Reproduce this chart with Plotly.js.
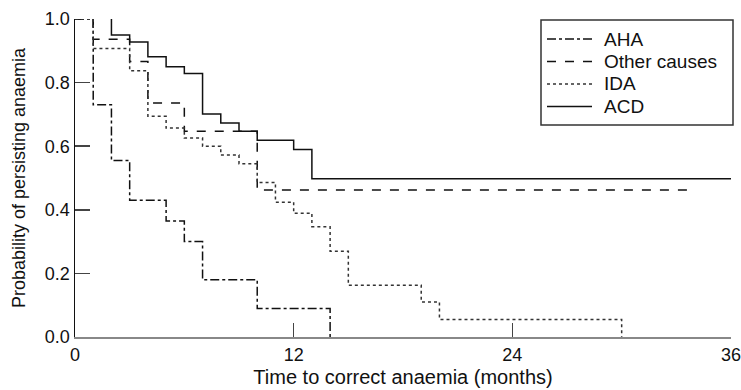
<!DOCTYPE html>
<html>
<head>
<meta charset="utf-8">
<script src="https://cdn.plot.ly/plotly-3.0.1.min.js"></script>
<style>html,body{margin:0;padding:0;background:#fff;}#chart{width:741px;height:390px;}</style>
</head>
<body>
<div id="chart"></div>
<script>
// Kaplan-Meier step data (months, probability)
const ahaMonths   = [0, 1, 2, 3, 5, 6, 7, 10, 14];
const ahaProb     = [1, 0.73, 0.555, 0.43, 0.365, 0.30, 0.18, 0.09, 0];

const otherMonths = [0, 1, 3, 4, 6, 10, 34];
const otherProb   = [1, 0.936, 0.866, 0.736, 0.647, 0.462, 0.462];

const idaMonths   = [0, 1, 3, 4, 5, 6, 7, 8, 9, 10, 11, 12, 13, 14, 15, 19, 20, 30];
const idaProb     = [1, 0.907, 0.837, 0.694, 0.657, 0.626, 0.60, 0.572, 0.545, 0.486, 0.424, 0.389, 0.347, 0.27, 0.163, 0.11, 0.055, 0];

const acdMonths   = [2, 2, 3, 4, 5, 6, 7, 8, 9, 10, 12, 13, 36];
const acdProb     = [1, 0.95, 0.928, 0.881, 0.85, 0.829, 0.701, 0.673, 0.647, 0.619, 0.59, 0.498, 0.498];

const seriesNames = ["AHA", "Other causes", "IDA", "ACD"];
const xTicks = [0, 12, 24, 36];
const yTicks = [0, 0.2, 0.4, 0.6, 0.8, 1.0];

const font = "Liberation Sans, Arial, Helvetica, sans-serif";
const W = 741, H = 390;
const M = {l: 75, r: 10, t: 19, b: 53};
const pw = W - M.l - M.r, ph = H - M.t - M.b;
const px2x = p => (p - M.l) / pw;
const py2y = p => (H - M.b - p) / ph;

const styles = [
  {color: "#111", width: 1.5, dash: "dashdot"},
  {color: "#111", width: 1.5, dash: "dash"},
  {color: "#333", width: 1.5, dash: "dot"},
  {color: "#111", width: 1.5, dash: "solid"}
];
const xs = [ahaMonths, otherMonths, idaMonths, acdMonths];
const ys = [ahaProb, otherProb, idaProb, acdProb];

const traces = seriesNames.map((n, i) => ({
  x: xs[i], y: ys[i], name: n, mode: "lines", showlegend: false,
  line: Object.assign({shape: "hv"}, styles[i])
}));

// hand-drawn legend box (positions in pixels converted to paper coords)
const legBox = {x0: 541, x1: 733, y0: 20, y1: 125};
const legRow0 = 39, legStep = 22.5, symX0 = 547, symX1 = 592, txtX = 602;
const shapes = [{type: "rect", xref: "paper", yref: "paper",
  x0: px2x(legBox.x0), x1: px2x(legBox.x1), y0: py2y(legBox.y0), y1: py2y(legBox.y1),
  line: {color: "#333", width: 1.5}, fillcolor: "#fff", layer: "above"}];
const annotations = [];
seriesNames.forEach((n, i) => {
  const yy = py2y(legRow0 + i * legStep);
  shapes.push({type: "line", xref: "paper", yref: "paper",
    x0: px2x(symX0), x1: px2x(symX1), y0: yy, y1: yy, line: styles[i], layer: "above"});
  annotations.push({xref: "paper", yref: "paper", x: px2x(txtX), y: yy,
    xanchor: "left", yanchor: "middle", text: n, showarrow: false,
    font: {family: font, size: 19, color: "#111"}});
});

const layout = {
  width: W, height: H, margin: M,
  paper_bgcolor: "#fff", plot_bgcolor: "#fff",
  font: {family: font, size: 18, color: "#111"},
  showlegend: false, shapes: shapes, annotations: annotations,
  xaxis: {range: [0, 36], tickvals: xTicks, ticktext: xTicks.map(String),
          ticks: "inside", ticklen: 14, tickwidth: 1.5, tickcolor: "#444",
          showline: true, linecolor: "#888", linewidth: 2,
          showgrid: false, zeroline: false, tickfont: {size: 18},
          ticklabeloverflow: "allow",
          title: {text: "Time to correct anaemia (months)", font: {family: font, size: 20, color: "#111"}, standoff: 6}},
  yaxis: {range: [0, 1], tickvals: yTicks, ticktext: yTicks.map(v => v.toFixed(1)),
          ticks: "inside", ticklen: 15, tickwidth: 1.5, tickcolor: "#444",
          showline: true, linecolor: "#111", linewidth: 1.5,
          showgrid: false, zeroline: false, tickfont: {size: 18},
          title: {text: "Probability of persisting anaemia", font: {family: font, size: 18, color: "#111"}, standoff: 14}}
};

Plotly.newPlot("chart", traces, layout, {displayModeBar: false, staticPlot: true});
</script>
</body>
</html>
